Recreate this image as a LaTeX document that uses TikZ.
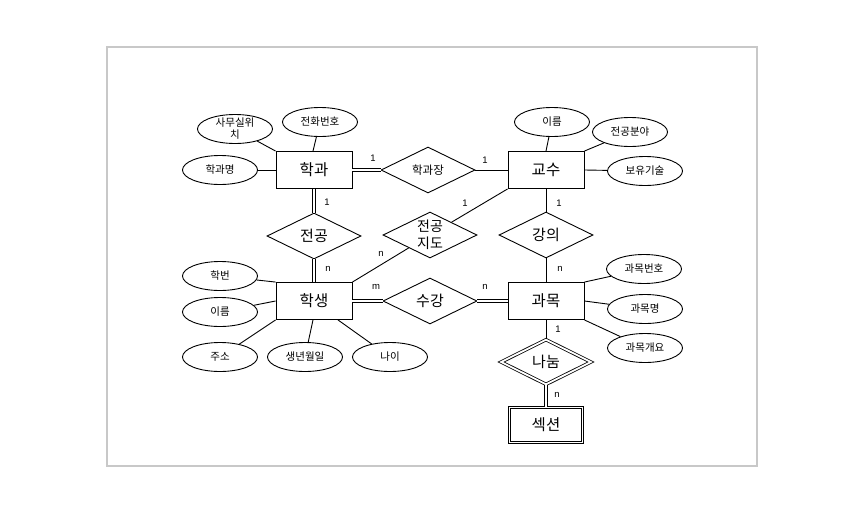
\documentclass[tikz,border=0pt]{standalone}
\usepackage{fontspec}
\setmainfont{Noto Sans CJK KR}
\newfontfamily\labfont{Liberation Sans}
\usetikzlibrary{shapes.geometric}
\definecolor{framegray}{RGB}{200,200,200}
\begin{document}
\begin{tikzpicture}[x=1pt,y=-1pt,
  every node/.style={inner sep=0pt},
  entity/.style={draw,line width=0.9pt,minimum width=76pt,minimum height=37pt,font=\fontsize{15.5}{17}\selectfont},
  weakentity/.style={entity,double,double distance=1.8pt,line width=0.8pt,minimum width=73pt,minimum height=35pt},
  rel/.style={draw,diamond,aspect=2,line width=0.9pt,minimum width=94pt,minimum height=46pt,font=\fontsize{15}{16}\selectfont},
  weakrel/.style={rel,double,double distance=1.8pt,line width=0.8pt,minimum width=90pt,minimum height=45pt},
  attr/.style={draw,ellipse,line width=0.9pt,minimum width=75pt,minimum height=29pt,font=\fontsize{10.5}{11}\selectfont},
  lab/.style={font=\labfont\fontsize{9.5}{11}\selectfont},
  conn/.style={line width=0.9pt},
  dconn/.style={line width=0.8pt,double,double distance=2pt},
]
\useasboundingbox (0,0) rectangle (851,514);
\node[draw=framegray,line width=1.8pt,minimum width=650pt,minimum height=419pt] (frame) at (432,256.5) {};

% entities
\node[entity] (hk) at (314,170) {학과};
\node[entity] (gs) at (546,170) {교수};
\node[entity] (hs) at (314,301) {학생};
\node[entity] (gm) at (546,301) {과목};
\node[weakentity] (sc) at (546,425) {섹션};

% relationships
\node[rel,font=\fontsize{11.5}{13}\selectfont] (hkj) at (428,170) {학과장};
\node[rel] (jg) at (314,236) {전공};
\node[rel] (jd) at (430,235) {};
\node[align=center,font=\fontsize{14}{17}\selectfont] (jdt) at (430,235) {전공\\지도};
\node[rel] (gu) at (546,235) {강의};
\node[rel] (sg) at (430,301) {수강};
\node[weakrel] (nn) at (546,362) {나눔};

% attributes
\node[attr] (a1) at (235,129) {};
\node[align=center,font=\fontsize{10.5}{11.5}\selectfont] (a1t) at (235,128.5) {사무실위\\치};
\node[attr] (a2) at (320,122) {전화번호};
\node[attr] (a3) at (220,170) {학과명};
\node[attr] (b1) at (552,122) {이름};
\node[attr] (b2) at (630,132) {전공분야};
\node[attr] (b3) at (645,171) {보유기술};
\node[attr] (c1) at (220,276) {학번};
\node[attr] (c2) at (220,312) {이름};
\node[attr] (c3) at (220,357) {주소};
\node[attr] (c4) at (305,357) {생년월일};
\node[attr] (c5) at (390,357) {나이};
\node[attr] (d1) at (644,269) {과목번호};
\node[attr] (d2) at (645,309) {과목명};
\node[attr] (d3) at (645,348) {과목개요};

% attribute links
\draw[conn] (a1) -- (hk.north west);
\draw[conn] (a2) -- ([xshift=-1pt]hk.north);
\draw[conn] (a3) -- (hk.west);
\draw[conn] (b1) -- (gs.north);
\draw[conn] (b2) -- (gs.north east);
\draw[conn] (b3) -- (gs.east);
\draw[conn] (c1) -- (hs.north west);
\draw[conn] (c2) -- (hs.west);
\draw[conn] (c3) -- (hs.south west);
\draw[conn] (c4) -- ([xshift=-1pt]hs.south);
\draw[conn] (c5) -- ([xshift=24pt]hs.south);
\draw[conn] (d1) -- (gm.north east);
\draw[conn] (d2) -- (gm.east);
\draw[conn] (d3) -- (gm.south east);

% relationship links
\draw[dconn] (hk.east) -- (hkj.west);
\draw[conn] (hkj.east) -- (gs.west);
\draw[dconn] (hk.south) -- (jg.north);
\draw[dconn] (jg.south) -- (hs.north);
\draw[conn] (hs.north east) -- (jd);
\draw[conn] (gs.south west) -- (jd);
\draw[conn] (gs.south) -- (gu.north);
\draw[conn] (gu.south) -- (gm.north);
\draw[dconn] (hs.east) -- (sg.west);
\draw[dconn] (sg.east) -- (gm.west);
\draw[conn] (gm.south) -- (nn.north);
\draw[dconn] (nn.south) -- (sc.north);

% cardinalities
\node[lab] (l1) at (373,158) {1};
\node[lab] (l2) at (485,160) {1};
\node[lab] (l3) at (327,202) {1};
\node[lab] (l4) at (465,203) {1};
\node[lab] (l5) at (559,203) {1};
\node[lab] (l6) at (328,269) {n};
\node[lab] (l7) at (381,254) {n};
\node[lab] (l8) at (376,287) {m};
\node[lab] (l9) at (485,287) {n};
\node[lab] (l10) at (560,269) {n};
\node[lab] (l11) at (558,329) {1};
\node[lab] (l12) at (557,395) {n};
\end{tikzpicture}
\end{document}
